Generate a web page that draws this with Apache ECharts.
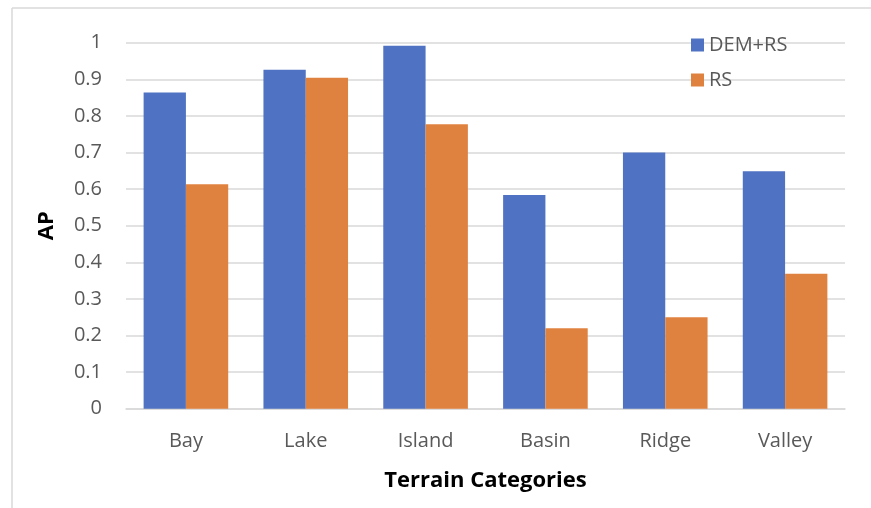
<!DOCTYPE html>
<html>
<head>
<meta charset="utf-8">
<script src="https://cdn.jsdelivr.net/npm/echarts@6/dist/echarts.min.js"></script>
<style>
html,body{margin:0;padding:0;background:#fff;}
#c{width:871px;height:508px;}
</style>
</head>
<body>
<div id="c"></div>
<script>
const categories = ['Bay', 'Lake', 'Island', 'Basin', 'Ridge', 'Valley'];
const demRs = [0.864, 0.926, 0.992, 0.584, 0.700, 0.649];
const rs = [0.613, 0.904, 0.777, 0.220, 0.250, 0.369];
const seriesNames = ['DEM+RS', 'RS'];

const chart = echarts.init(document.getElementById('c'), null, {renderer: 'canvas'});
const font = '"Open Sans", "Noto Sans", sans-serif';
chart.setOption({
  animation: false,
  backgroundColor: '#ffffff',
  graphic: [
    {type: 'line', shape: {x1: 12, y1: 8, x2: 871, y2: 8}, style: {stroke: '#d9d9d9', lineWidth: 1.5}},
    {type: 'line', shape: {x1: 12, y1: 8, x2: 12, y2: 508}, style: {stroke: '#d9d9d9', lineWidth: 1.5}}
  ],
  grid: {left: 126, right: 26, top: 42.7, bottom: 99.3, containLabel: false},
  legend: {
    orient: 'vertical',
    left: 686,
    top: 30,
    padding: 5,
    itemWidth: 13,
    itemHeight: 13,
    itemGap: 15,
    icon: 'rect',
    textStyle: {fontFamily: font, fontSize: 20, color: '#595959', lineHeight: 20},
    data: seriesNames
  },
  xAxis: {
    type: 'category',
    data: categories,
    axisTick: {show: false},
    axisLine: {lineStyle: {color: '#d9d9d9', width: 1.5}},
    axisLabel: {fontFamily: font, fontSize: 20, color: '#595959', margin: 23},
    name: 'Terrain Categories',
    nameLocation: 'middle',
    nameGap: 61,
    nameTextStyle: {fontFamily: font, fontSize: 22, fontWeight: 'bold', color: '#000000'}
  },
  yAxis: {
    type: 'value',
    min: 0,
    max: 1,
    interval: 0.1,
    axisLine: {show: false},
    axisTick: {show: false},
    splitLine: {lineStyle: {color: '#d9d9d9', width: 1.5}},
    axisLabel: {fontFamily: font, fontSize: 20, color: '#595959', margin: 24,
      formatter: v => String(Math.round(v * 10) / 10)},
    name: 'AP',
    nameLocation: 'middle',
    nameGap: 68,
    nameRotate: 90,
    nameTextStyle: {fontFamily: font, fontSize: 22, fontWeight: 'bold', color: '#000000'}
  },
  series: [
    {name: seriesNames[0], type: 'bar', data: demRs, barGap: '0%', barCategoryGap: '29.4%',
     itemStyle: {color: '#4f72c2'}},
    {name: seriesNames[1], type: 'bar', data: rs, barGap: '0%', barCategoryGap: '29.4%',
     itemStyle: {color: '#e0823f'}}
  ]
});
</script>
</body>
</html>
